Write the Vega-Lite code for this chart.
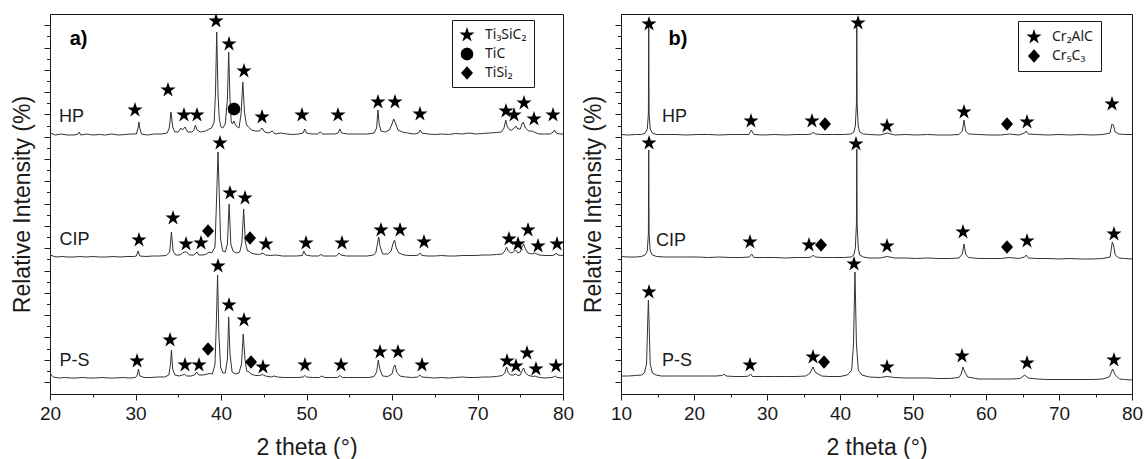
{
"$schema": "https://vega.github.io/schema/vega-lite/v6.json",
"padding": {"left": 11, "top": 12, "right": 0, "bottom": 0},
"background": "white",
"config": {
  "font": "Liberation Sans",
  "view": {"stroke": "#1a1a1a", "strokeWidth": 1},
  "axis": {"grid": false, "domainColor": "#1a1a1a", "tickColor": "#1a1a1a", "labelColor": "#1a1a1a", "titleColor": "#1a1a1a", "labelFontSize": 19, "titleFontSize": 23, "titleFontWeight": "normal", "tickWidth": 1, "domainWidth": 1},
  "legend": {"orient": "none", "strokeColor": "#1a1a1a", "fillColor": "white", "padding": 7, "labelFont": "Noto Sans", "labelFontSize": 14, "labelColor": "#1a1a1a", "symbolSize": 256, "symbolFillColor": "#000", "symbolStrokeWidth": 0, "rowPadding": 4, "labelOffset": 10, "title": null}
},
"datasets": {
  "lineA": [
    {"s":"HP","x":20.0,"y":261},{"s":"HP","x":20.6,"y":259},{"s":"HP","x":21.3,"y":260},{"s":"HP","x":22.0,"y":259},{"s":"HP","x":22.7,"y":259},{"s":"HP","x":23.2,"y":259.5},{"s":"HP","x":23.4,"y":262},{"s":"HP","x":23.6,"y":259},{"s":"HP","x":24.3,"y":260},{"s":"HP","x":25.0,"y":259},{"s":"HP","x":25.8,"y":259.5},{"s":"HP","x":26.5,"y":259},{"s":"HP","x":27.2,"y":260},{"s":"HP","x":28.0,"y":259},{"s":"HP","x":28.8,"y":259.5},{"s":"HP","x":29.5,"y":260},{"s":"HP","x":30.1,"y":260},{"s":"HP","x":30.3,"y":266},{"s":"HP","x":30.4,"y":272},{"s":"HP","x":30.5,"y":266},{"s":"HP","x":30.7,"y":260},{"s":"HP","x":31.4,"y":259},{"s":"HP","x":32.2,"y":260},{"s":"HP","x":33.0,"y":260},{"s":"HP","x":33.7,"y":261},{"s":"HP","x":33.95,"y":266},{"s":"HP","x":34.15,"y":282},{"s":"HP","x":34.35,"y":267},{"s":"HP","x":34.6,"y":262},{"s":"HP","x":35.0,"y":262},{"s":"HP","x":35.3,"y":266},{"s":"HP","x":35.5,"y":264},{"s":"HP","x":35.8,"y":267},{"s":"HP","x":36.1,"y":262},{"s":"HP","x":36.6,"y":262},{"s":"HP","x":36.85,"y":264},{"s":"HP","x":37.0,"y":269},{"s":"HP","x":37.2,"y":264},{"s":"HP","x":37.6,"y":262},{"s":"HP","x":38.2,"y":263},{"s":"HP","x":38.6,"y":265},{"s":"HP","x":38.9,"y":266},{"s":"HP","x":39.2,"y":272},{"s":"HP","x":39.35,"y":300},{"s":"HP","x":39.5,"y":362},{"s":"HP","x":39.65,"y":300},{"s":"HP","x":39.8,"y":275},{"s":"HP","x":40.0,"y":267},{"s":"HP","x":40.2,"y":266},{"s":"HP","x":40.5,"y":270},{"s":"HP","x":40.75,"y":295},{"s":"HP","x":40.9,"y":342},{"s":"HP","x":41.05,"y":295},{"s":"HP","x":41.2,"y":272},{"s":"HP","x":41.35,"y":270},{"s":"HP","x":41.5,"y":273},{"s":"HP","x":41.7,"y":269},{"s":"HP","x":41.9,"y":267},{"s":"HP","x":42.1,"y":266},{"s":"HP","x":42.35,"y":280},{"s":"HP","x":42.55,"y":312},{"s":"HP","x":42.75,"y":282},{"s":"HP","x":42.95,"y":270},{"s":"HP","x":43.2,"y":267},{"s":"HP","x":43.6,"y":264},{"s":"HP","x":44.0,"y":263},{"s":"HP","x":44.5,"y":263},{"s":"HP","x":44.8,"y":266},{"s":"HP","x":45.1,"y":262},{"s":"HP","x":45.6,"y":261},{"s":"HP","x":46.0,"y":263},{"s":"HP","x":46.3,"y":260},{"s":"HP","x":47.0,"y":261},{"s":"HP","x":47.7,"y":260},{"s":"HP","x":48.4,"y":259.5},{"s":"HP","x":49.1,"y":260},{"s":"HP","x":49.6,"y":261},{"s":"HP","x":49.8,"y":265},{"s":"HP","x":50.0,"y":261},{"s":"HP","x":50.6,"y":260},{"s":"HP","x":51.3,"y":260},{"s":"HP","x":51.6,"y":262},{"s":"HP","x":51.9,"y":260},{"s":"HP","x":52.6,"y":260},{"s":"HP","x":53.3,"y":260},{"s":"HP","x":53.7,"y":261},{"s":"HP","x":53.9,"y":265},{"s":"HP","x":54.1,"y":261},{"s":"HP","x":54.8,"y":260},{"s":"HP","x":55.6,"y":260},{"s":"HP","x":56.4,"y":260},{"s":"HP","x":57.2,"y":260},{"s":"HP","x":57.9,"y":261},{"s":"HP","x":58.2,"y":266},{"s":"HP","x":58.35,"y":284},{"s":"HP","x":58.5,"y":270},{"s":"HP","x":58.7,"y":263},{"s":"HP","x":59.2,"y":262},{"s":"HP","x":59.7,"y":264},{"s":"HP","x":60.0,"y":270},{"s":"HP","x":60.2,"y":275},{"s":"HP","x":60.45,"y":270},{"s":"HP","x":60.7,"y":264},{"s":"HP","x":61.2,"y":262},{"s":"HP","x":61.8,"y":261},{"s":"HP","x":62.6,"y":260},{"s":"HP","x":63.1,"y":261},{"s":"HP","x":63.3,"y":264},{"s":"HP","x":63.5,"y":261},{"s":"HP","x":64.2,"y":260},{"s":"HP","x":65.0,"y":259.5},{"s":"HP","x":65.8,"y":260},{"s":"HP","x":66.6,"y":259.5},{"s":"HP","x":67.4,"y":260.5},{"s":"HP","x":68.2,"y":260},{"s":"HP","x":69.0,"y":261},{"s":"HP","x":69.8,"y":260},{"s":"HP","x":70.6,"y":260.5},{"s":"HP","x":71.4,"y":261},{"s":"HP","x":72.2,"y":261.5},{"s":"HP","x":72.8,"y":262},{"s":"HP","x":73.1,"y":266},{"s":"HP","x":73.3,"y":274},{"s":"HP","x":73.5,"y":267},{"s":"HP","x":73.8,"y":264},{"s":"HP","x":74.0,"y":264},{"s":"HP","x":74.3,"y":266},{"s":"HP","x":74.5,"y":268},{"s":"HP","x":74.7,"y":265},{"s":"HP","x":75.0,"y":265},{"s":"HP","x":75.2,"y":270},{"s":"HP","x":75.35,"y":272},{"s":"HP","x":75.6,"y":266},{"s":"HP","x":76.0,"y":263},{"s":"HP","x":76.4,"y":263},{"s":"HP","x":76.6,"y":262},{"s":"HP","x":77.2,"y":260},{"s":"HP","x":77.8,"y":260},{"s":"HP","x":78.5,"y":260},{"s":"HP","x":78.85,"y":262},{"s":"HP","x":79.0,"y":264},{"s":"HP","x":79.2,"y":261},{"s":"HP","x":79.6,"y":260},{"s":"HP","x":80.0,"y":260},
    {"s":"CIP","x":20.0,"y":139},{"s":"CIP","x":20.7,"y":137},{"s":"CIP","x":21.4,"y":137.5},{"s":"CIP","x":22.1,"y":137},{"s":"CIP","x":22.8,"y":137},{"s":"CIP","x":23.5,"y":137.5},{"s":"CIP","x":24.2,"y":137},{"s":"CIP","x":25.0,"y":137.5},{"s":"CIP","x":25.8,"y":137},{"s":"CIP","x":26.6,"y":137},{"s":"CIP","x":27.4,"y":137.5},{"s":"CIP","x":28.2,"y":137},{"s":"CIP","x":29.0,"y":137.5},{"s":"CIP","x":29.8,"y":137.5},{"s":"CIP","x":30.1,"y":138},{"s":"CIP","x":30.3,"y":143},{"s":"CIP","x":30.5,"y":138},{"s":"CIP","x":31.2,"y":137.5},{"s":"CIP","x":32.0,"y":138},{"s":"CIP","x":32.8,"y":138},{"s":"CIP","x":33.6,"y":138.5},{"s":"CIP","x":34.0,"y":142},{"s":"CIP","x":34.2,"y":162},{"s":"CIP","x":34.4,"y":143},{"s":"CIP","x":34.7,"y":139},{"s":"CIP","x":35.2,"y":139},{"s":"CIP","x":35.5,"y":141},{"s":"CIP","x":35.7,"y":142},{"s":"CIP","x":36.0,"y":142},{"s":"CIP","x":36.3,"y":139},{"s":"CIP","x":36.8,"y":139},{"s":"CIP","x":37.1,"y":141},{"s":"CIP","x":37.2,"y":142},{"s":"CIP","x":37.4,"y":139},{"s":"CIP","x":37.9,"y":139},{"s":"CIP","x":38.3,"y":140},{"s":"CIP","x":38.6,"y":142},{"s":"CIP","x":38.9,"y":141},{"s":"CIP","x":39.3,"y":147},{"s":"CIP","x":39.5,"y":200},{"s":"CIP","x":39.65,"y":242},{"s":"CIP","x":39.8,"y":200},{"s":"CIP","x":39.95,"y":155},{"s":"CIP","x":40.2,"y":143},{"s":"CIP","x":40.5,"y":142},{"s":"CIP","x":40.75,"y":150},{"s":"CIP","x":40.95,"y":190},{"s":"CIP","x":41.15,"y":150},{"s":"CIP","x":41.4,"y":143},{"s":"CIP","x":41.8,"y":141},{"s":"CIP","x":42.2,"y":142},{"s":"CIP","x":42.45,"y":152},{"s":"CIP","x":42.65,"y":185},{"s":"CIP","x":42.85,"y":152},{"s":"CIP","x":43.1,"y":143},{"s":"CIP","x":43.3,"y":143},{"s":"CIP","x":43.5,"y":141},{"s":"CIP","x":43.9,"y":140},{"s":"CIP","x":44.5,"y":139.5},{"s":"CIP","x":44.9,"y":141},{"s":"CIP","x":45.2,"y":139},{"s":"CIP","x":45.8,"y":138.5},{"s":"CIP","x":46.4,"y":139},{"s":"CIP","x":47.2,"y":138},{"s":"CIP","x":48.0,"y":138},{"s":"CIP","x":48.8,"y":138},{"s":"CIP","x":49.5,"y":138.5},{"s":"CIP","x":49.7,"y":143},{"s":"CIP","x":49.9,"y":139},{"s":"CIP","x":50.6,"y":138},{"s":"CIP","x":51.4,"y":138},{"s":"CIP","x":51.7,"y":139.5},{"s":"CIP","x":52.0,"y":138},{"s":"CIP","x":52.8,"y":138},{"s":"CIP","x":53.5,"y":138},{"s":"CIP","x":53.8,"y":141},{"s":"CIP","x":54.0,"y":139},{"s":"CIP","x":54.7,"y":138},{"s":"CIP","x":55.5,"y":138},{"s":"CIP","x":56.3,"y":138},{"s":"CIP","x":57.1,"y":138},{"s":"CIP","x":57.8,"y":139},{"s":"CIP","x":58.1,"y":141},{"s":"CIP","x":58.3,"y":150},{"s":"CIP","x":58.45,"y":157},{"s":"CIP","x":58.6,"y":148},{"s":"CIP","x":58.9,"y":140},{"s":"CIP","x":59.5,"y":140},{"s":"CIP","x":59.9,"y":143},{"s":"CIP","x":60.1,"y":150},{"s":"CIP","x":60.3,"y":154},{"s":"CIP","x":60.5,"y":146},{"s":"CIP","x":60.8,"y":141},{"s":"CIP","x":61.4,"y":139},{"s":"CIP","x":62.1,"y":138.5},{"s":"CIP","x":62.8,"y":138.5},{"s":"CIP","x":63.1,"y":139},{"s":"CIP","x":63.3,"y":141},{"s":"CIP","x":63.5,"y":138.5},{"s":"CIP","x":64.2,"y":138},{"s":"CIP","x":65.0,"y":138},{"s":"CIP","x":65.8,"y":138.5},{"s":"CIP","x":66.6,"y":138},{"s":"CIP","x":67.4,"y":138},{"s":"CIP","x":68.2,"y":138.5},{"s":"CIP","x":69.0,"y":138.5},{"s":"CIP","x":69.8,"y":138.5},{"s":"CIP","x":70.6,"y":139},{"s":"CIP","x":71.4,"y":139},{"s":"CIP","x":72.2,"y":139.5},{"s":"CIP","x":72.9,"y":140},{"s":"CIP","x":73.2,"y":143},{"s":"CIP","x":73.4,"y":147},{"s":"CIP","x":73.6,"y":143},{"s":"CIP","x":73.9,"y":141},{"s":"CIP","x":74.2,"y":142},{"s":"CIP","x":74.45,"y":144},{"s":"CIP","x":74.7,"y":141},{"s":"CIP","x":75.0,"y":142},{"s":"CIP","x":75.2,"y":147},{"s":"CIP","x":75.4,"y":150},{"s":"CIP","x":75.6,"y":145},{"s":"CIP","x":75.9,"y":141},{"s":"CIP","x":76.4,"y":140},{"s":"CIP","x":76.7,"y":141},{"s":"CIP","x":77.2,"y":139},{"s":"CIP","x":77.9,"y":138.5},{"s":"CIP","x":78.6,"y":138.5},{"s":"CIP","x":79.0,"y":139},{"s":"CIP","x":79.2,"y":141},{"s":"CIP","x":79.4,"y":139},{"s":"CIP","x":80.0,"y":138.5},
    {"s":"PS","x":20.0,"y":22},{"s":"PS","x":20.15,"y":19},{"s":"PS","x":20.4,"y":17},{"s":"PS","x":21.0,"y":16},{"s":"PS","x":21.7,"y":16.5},{"s":"PS","x":22.4,"y":16},{"s":"PS","x":23.1,"y":16},{"s":"PS","x":23.8,"y":16.5},{"s":"PS","x":24.5,"y":16},{"s":"PS","x":25.3,"y":16},{"s":"PS","x":26.1,"y":16.5},{"s":"PS","x":26.9,"y":16},{"s":"PS","x":27.7,"y":16},{"s":"PS","x":28.5,"y":16.5},{"s":"PS","x":29.3,"y":16},{"s":"PS","x":30.0,"y":16.5},{"s":"PS","x":30.2,"y":19},{"s":"PS","x":30.35,"y":25},{"s":"PS","x":30.5,"y":18},{"s":"PS","x":31.0,"y":16.5},{"s":"PS","x":31.8,"y":16.5},{"s":"PS","x":32.6,"y":17},{"s":"PS","x":33.4,"y":17},{"s":"PS","x":33.9,"y":19},{"s":"PS","x":34.1,"y":30},{"s":"PS","x":34.2,"y":44},{"s":"PS","x":34.35,"y":25},{"s":"PS","x":34.6,"y":19},{"s":"PS","x":35.1,"y":18},{"s":"PS","x":35.5,"y":19},{"s":"PS","x":35.75,"y":19.5},{"s":"PS","x":36.0,"y":18},{"s":"PS","x":36.5,"y":18},{"s":"PS","x":36.9,"y":19},{"s":"PS","x":37.15,"y":22},{"s":"PS","x":37.4,"y":19},{"s":"PS","x":37.9,"y":19},{"s":"PS","x":38.4,"y":20},{"s":"PS","x":38.7,"y":20.5},{"s":"PS","x":39.0,"y":20},{"s":"PS","x":39.3,"y":30},{"s":"PS","x":39.45,"y":70},{"s":"PS","x":39.6,"y":119},{"s":"PS","x":39.75,"y":60},{"s":"PS","x":39.95,"y":27},{"s":"PS","x":40.2,"y":21},{"s":"PS","x":40.5,"y":21},{"s":"PS","x":40.75,"y":35},{"s":"PS","x":40.9,"y":77},{"s":"PS","x":41.05,"y":40},{"s":"PS","x":41.3,"y":22},{"s":"PS","x":41.7,"y":20},{"s":"PS","x":42.1,"y":21},{"s":"PS","x":42.4,"y":30},{"s":"PS","x":42.6,"y":60},{"s":"PS","x":42.8,"y":35},{"s":"PS","x":43.0,"y":23},{"s":"PS","x":43.3,"y":22},{"s":"PS","x":43.5,"y":20},{"s":"PS","x":44.0,"y":18.5},{"s":"PS","x":44.5,"y":18.5},{"s":"PS","x":44.85,"y":19.5},{"s":"PS","x":45.2,"y":18},{"s":"PS","x":45.9,"y":17},{"s":"PS","x":46.2,"y":18},{"s":"PS","x":46.6,"y":17},{"s":"PS","x":47.4,"y":16.5},{"s":"PS","x":48.2,"y":16.5},{"s":"PS","x":49.0,"y":16.5},{"s":"PS","x":49.6,"y":17},{"s":"PS","x":49.8,"y":18.5},{"s":"PS","x":50.0,"y":17},{"s":"PS","x":50.7,"y":16.5},{"s":"PS","x":51.5,"y":16.5},{"s":"PS","x":51.8,"y":18},{"s":"PS","x":52.1,"y":16.5},{"s":"PS","x":52.9,"y":16.5},{"s":"PS","x":53.6,"y":16.5},{"s":"PS","x":53.9,"y":18.5},{"s":"PS","x":54.2,"y":16.5},{"s":"PS","x":54.9,"y":16.5},{"s":"PS","x":55.7,"y":16.5},{"s":"PS","x":56.5,"y":16.5},{"s":"PS","x":57.3,"y":16.5},{"s":"PS","x":57.9,"y":17.5},{"s":"PS","x":58.2,"y":22},{"s":"PS","x":58.4,"y":34},{"s":"PS","x":58.6,"y":24},{"s":"PS","x":58.9,"y":18},{"s":"PS","x":59.5,"y":17.5},{"s":"PS","x":60.0,"y":20},{"s":"PS","x":60.2,"y":27},{"s":"PS","x":60.35,"y":29},{"s":"PS","x":60.55,"y":22},{"s":"PS","x":60.9,"y":18},{"s":"PS","x":61.6,"y":17},{"s":"PS","x":62.4,"y":16.5},{"s":"PS","x":63.0,"y":17},{"s":"PS","x":63.25,"y":19},{"s":"PS","x":63.5,"y":17},{"s":"PS","x":64.2,"y":16.5},{"s":"PS","x":65.0,"y":16},{"s":"PS","x":65.8,"y":16.5},{"s":"PS","x":66.6,"y":16},{"s":"PS","x":67.4,"y":16.5},{"s":"PS","x":68.2,"y":17},{"s":"PS","x":69.0,"y":16.5},{"s":"PS","x":69.8,"y":16.5},{"s":"PS","x":70.6,"y":17},{"s":"PS","x":71.4,"y":17},{"s":"PS","x":72.2,"y":17.5},{"s":"PS","x":72.9,"y":18.5},{"s":"PS","x":73.2,"y":21},{"s":"PS","x":73.4,"y":27},{"s":"PS","x":73.6,"y":21},{"s":"PS","x":73.9,"y":19},{"s":"PS","x":74.2,"y":19},{"s":"PS","x":74.45,"y":20},{"s":"PS","x":74.7,"y":18.5},{"s":"PS","x":75.0,"y":19},{"s":"PS","x":75.25,"y":24},{"s":"PS","x":75.4,"y":26},{"s":"PS","x":75.6,"y":21},{"s":"PS","x":76.0,"y":18.5},{"s":"PS","x":76.5,"y":17.5},{"s":"PS","x":76.7,"y":18},{"s":"PS","x":77.2,"y":16.5},{"s":"PS","x":77.9,"y":16},{"s":"PS","x":78.6,"y":16.5},{"s":"PS","x":78.9,"y":17},{"s":"PS","x":79.1,"y":18},{"s":"PS","x":79.3,"y":16.5},{"s":"PS","x":80.0,"y":16}
  ],
  "markA": [
    {"ph":"Ti₃SiC₂","x":29.94,"y":284},{"ph":"Ti₃SiC₂","x":33.8,"y":304},{"ph":"Ti₃SiC₂","x":35.67,"y":279},{"ph":"Ti₃SiC₂","x":37.19,"y":279},{"ph":"Ti₃SiC₂","x":39.42,"y":373},{"ph":"Ti₃SiC₂","x":40.94,"y":350},{"ph":"Ti₃SiC₂","x":42.69,"y":323},{"ph":"Ti₃SiC₂","x":44.8,"y":277},{"ph":"Ti₃SiC₂","x":49.47,"y":279},{"ph":"Ti₃SiC₂","x":53.68,"y":279},{"ph":"Ti₃SiC₂","x":58.36,"y":292},{"ph":"Ti₃SiC₂","x":60.35,"y":292},{"ph":"Ti₃SiC₂","x":63.27,"y":280},{"ph":"Ti₃SiC₂","x":73.33,"y":283},{"ph":"Ti₃SiC₂","x":74.27,"y":279},{"ph":"Ti₃SiC₂","x":75.44,"y":291},{"ph":"Ti₃SiC₂","x":76.61,"y":275},{"ph":"Ti₃SiC₂","x":78.83,"y":279},{"ph":"TiC","x":41.52,"y":285},
    {"ph":"Ti₃SiC₂","x":30.41,"y":154},{"ph":"Ti₃SiC₂","x":34.39,"y":176},{"ph":"Ti₃SiC₂","x":35.91,"y":150},{"ph":"Ti₃SiC₂","x":37.66,"y":151},{"ph":"Ti₃SiC₂","x":39.88,"y":251},{"ph":"Ti₃SiC₂","x":41.05,"y":201},{"ph":"Ti₃SiC₂","x":42.81,"y":196},{"ph":"Ti₃SiC₂","x":45.26,"y":150},{"ph":"Ti₃SiC₂","x":49.94,"y":151},{"ph":"Ti₃SiC₂","x":54.15,"y":151},{"ph":"Ti₃SiC₂","x":58.71,"y":164},{"ph":"Ti₃SiC₂","x":60.94,"y":164},{"ph":"Ti₃SiC₂","x":63.74,"y":152},{"ph":"Ti₃SiC₂","x":73.68,"y":155},{"ph":"Ti₃SiC₂","x":74.74,"y":150},{"ph":"Ti₃SiC₂","x":75.91,"y":164},{"ph":"Ti₃SiC₂","x":77.08,"y":148},{"ph":"Ti₃SiC₂","x":79.3,"y":150},{"ph":"TiSi₂","x":38.48,"y":163},{"ph":"TiSi₂","x":43.39,"y":156},
    {"ph":"Ti₃SiC₂","x":30.18,"y":33},{"ph":"Ti₃SiC₂","x":34.04,"y":54},{"ph":"Ti₃SiC₂","x":35.79,"y":29},{"ph":"Ti₃SiC₂","x":37.43,"y":29},{"ph":"Ti₃SiC₂","x":39.65,"y":128},{"ph":"Ti₃SiC₂","x":40.94,"y":89},{"ph":"Ti₃SiC₂","x":42.69,"y":74},{"ph":"Ti₃SiC₂","x":44.91,"y":27},{"ph":"Ti₃SiC₂","x":49.82,"y":29},{"ph":"Ti₃SiC₂","x":54.04,"y":29},{"ph":"Ti₃SiC₂","x":58.6,"y":42},{"ph":"Ti₃SiC₂","x":60.7,"y":42},{"ph":"Ti₃SiC₂","x":63.51,"y":29},{"ph":"Ti₃SiC₂","x":73.45,"y":33},{"ph":"Ti₃SiC₂","x":74.5,"y":28},{"ph":"Ti₃SiC₂","x":75.79,"y":41},{"ph":"Ti₃SiC₂","x":76.84,"y":25},{"ph":"Ti₃SiC₂","x":79.18,"y":28},{"ph":"TiSi₂","x":38.48,"y":45},{"ph":"TiSi₂","x":43.51,"y":32}
  ],
  "textA": [{"x":21.05,"y":277,"t":"HP"},{"x":21.1,"y":154,"t":"CIP"},{"x":21.1,"y":33,"t":"P-S"}],
  "labA": [{"x":22.3,"y":355,"t":"a)"}],
  "lineB": [
    {"s":"HP","x":10.0,"y":259.5},{"s":"HP","x":11.0,"y":259},{"s":"HP","x":12.0,"y":259.5},{"s":"HP","x":12.8,"y":259.5},{"s":"HP","x":13.3,"y":261},{"s":"HP","x":13.6,"y":265},{"s":"HP","x":13.75,"y":280},{"s":"HP","x":13.8,"y":367},{"s":"HP","x":13.85,"y":280},{"s":"HP","x":14.0,"y":265},{"s":"HP","x":14.3,"y":261},{"s":"HP","x":14.9,"y":259.5},{"s":"HP","x":16.0,"y":259.5},{"s":"HP","x":17.5,"y":259.5},{"s":"HP","x":19.0,"y":259},{"s":"HP","x":20.5,"y":259.5},{"s":"HP","x":22.0,"y":259.5},{"s":"HP","x":23.5,"y":259},{"s":"HP","x":25.0,"y":259.5},{"s":"HP","x":26.5,"y":259.5},{"s":"HP","x":27.5,"y":259.5},{"s":"HP","x":27.85,"y":264},{"s":"HP","x":28.2,"y":259.5},{"s":"HP","x":29.5,"y":259},{"s":"HP","x":31.0,"y":259.5},{"s":"HP","x":32.5,"y":259},{"s":"HP","x":34.0,"y":259.5},{"s":"HP","x":35.5,"y":259.5},{"s":"HP","x":36.1,"y":260},{"s":"HP","x":36.35,"y":262},{"s":"HP","x":36.6,"y":260},{"s":"HP","x":37.5,"y":259.5},{"s":"HP","x":39.0,"y":259.5},{"s":"HP","x":40.5,"y":259.5},{"s":"HP","x":41.5,"y":260},{"s":"HP","x":41.9,"y":262},{"s":"HP","x":42.1,"y":268},{"s":"HP","x":42.25,"y":290},{"s":"HP","x":42.3,"y":367},{"s":"HP","x":42.35,"y":290},{"s":"HP","x":42.5,"y":268},{"s":"HP","x":42.7,"y":262},{"s":"HP","x":43.2,"y":260},{"s":"HP","x":44.0,"y":259.5},{"s":"HP","x":45.5,"y":259},{"s":"HP","x":46.45,"y":261},{"s":"HP","x":47.5,"y":259},{"s":"HP","x":49.0,"y":259.5},{"s":"HP","x":50.5,"y":259},{"s":"HP","x":52.0,"y":259.5},{"s":"HP","x":53.5,"y":259},{"s":"HP","x":55.0,"y":259},{"s":"HP","x":56.3,"y":259.5},{"s":"HP","x":56.75,"y":263},{"s":"HP","x":57.0,"y":274},{"s":"HP","x":57.2,"y":263},{"s":"HP","x":57.6,"y":260},{"s":"HP","x":59.0,"y":259.5},{"s":"HP","x":60.5,"y":259},{"s":"HP","x":62.0,"y":259},{"s":"HP","x":63.2,"y":260},{"s":"HP","x":64.5,"y":259},{"s":"HP","x":65.3,"y":261},{"s":"HP","x":65.5,"y":263},{"s":"HP","x":65.8,"y":260},{"s":"HP","x":67.0,"y":259.5},{"s":"HP","x":68.5,"y":259},{"s":"HP","x":70.0,"y":259.5},{"s":"HP","x":71.5,"y":259},{"s":"HP","x":73.0,"y":259.5},{"s":"HP","x":74.5,"y":259},{"s":"HP","x":76.0,"y":259.5},{"s":"HP","x":77.0,"y":261},{"s":"HP","x":77.25,"y":270},{"s":"HP","x":77.45,"y":269},{"s":"HP","x":77.7,"y":262},{"s":"HP","x":78.2,"y":260},{"s":"HP","x":79.0,"y":259.5},{"s":"HP","x":80.0,"y":259.5},
    {"s":"CIP","x":10.0,"y":137.5},{"s":"CIP","x":11.0,"y":137},{"s":"CIP","x":12.0,"y":137},{"s":"CIP","x":12.8,"y":137.5},{"s":"CIP","x":13.3,"y":139},{"s":"CIP","x":13.6,"y":143},{"s":"CIP","x":13.75,"y":160},{"s":"CIP","x":13.8,"y":244},{"s":"CIP","x":13.85,"y":160},{"s":"CIP","x":14.0,"y":143},{"s":"CIP","x":14.3,"y":139},{"s":"CIP","x":14.9,"y":137.5},{"s":"CIP","x":16.0,"y":137},{"s":"CIP","x":17.5,"y":137},{"s":"CIP","x":19.0,"y":137},{"s":"CIP","x":20.5,"y":137},{"s":"CIP","x":22.0,"y":136.5},{"s":"CIP","x":23.5,"y":137},{"s":"CIP","x":25.0,"y":136.5},{"s":"CIP","x":26.5,"y":136.5},{"s":"CIP","x":27.6,"y":137},{"s":"CIP","x":27.9,"y":140},{"s":"CIP","x":28.2,"y":136.5},{"s":"CIP","x":29.5,"y":136.5},{"s":"CIP","x":31.0,"y":136.5},{"s":"CIP","x":32.5,"y":136},{"s":"CIP","x":34.0,"y":136.5},{"s":"CIP","x":35.5,"y":136.5},{"s":"CIP","x":36.1,"y":137},{"s":"CIP","x":36.35,"y":139},{"s":"CIP","x":36.6,"y":137},{"s":"CIP","x":37.5,"y":136.5},{"s":"CIP","x":39.0,"y":136.5},{"s":"CIP","x":40.5,"y":136.5},{"s":"CIP","x":41.5,"y":137},{"s":"CIP","x":41.9,"y":139},{"s":"CIP","x":42.1,"y":146},{"s":"CIP","x":42.25,"y":170},{"s":"CIP","x":42.3,"y":245},{"s":"CIP","x":42.35,"y":170},{"s":"CIP","x":42.5,"y":146},{"s":"CIP","x":42.7,"y":139},{"s":"CIP","x":43.2,"y":137},{"s":"CIP","x":44.0,"y":136},{"s":"CIP","x":45.5,"y":136},{"s":"CIP","x":46.45,"y":137.5},{"s":"CIP","x":47.5,"y":136},{"s":"CIP","x":49.0,"y":136},{"s":"CIP","x":50.5,"y":135.5},{"s":"CIP","x":52.0,"y":136},{"s":"CIP","x":53.5,"y":135.5},{"s":"CIP","x":55.0,"y":135.5},{"s":"CIP","x":56.3,"y":136},{"s":"CIP","x":56.75,"y":140},{"s":"CIP","x":57.0,"y":150},{"s":"CIP","x":57.2,"y":140},{"s":"CIP","x":57.6,"y":136.5},{"s":"CIP","x":59.0,"y":135.5},{"s":"CIP","x":60.5,"y":135.5},{"s":"CIP","x":62.0,"y":135.5},{"s":"CIP","x":63.2,"y":136.5},{"s":"CIP","x":64.5,"y":135.5},{"s":"CIP","x":65.3,"y":137},{"s":"CIP","x":65.5,"y":139},{"s":"CIP","x":65.8,"y":136},{"s":"CIP","x":67.0,"y":135.5},{"s":"CIP","x":68.5,"y":135.5},{"s":"CIP","x":70.0,"y":135},{"s":"CIP","x":71.5,"y":135.5},{"s":"CIP","x":73.0,"y":135},{"s":"CIP","x":74.5,"y":135},{"s":"CIP","x":76.0,"y":135.5},{"s":"CIP","x":77.0,"y":137},{"s":"CIP","x":77.3,"y":152},{"s":"CIP","x":77.5,"y":148},{"s":"CIP","x":77.7,"y":139},{"s":"CIP","x":78.2,"y":136},{"s":"CIP","x":79.0,"y":135.5},{"s":"CIP","x":80.0,"y":135},
    {"s":"PS","x":10.0,"y":18},{"s":"PS","x":11.0,"y":18},{"s":"PS","x":12.0,"y":18.5},{"s":"PS","x":12.8,"y":19},{"s":"PS","x":13.2,"y":21},{"s":"PS","x":13.5,"y":30},{"s":"PS","x":13.65,"y":70},{"s":"PS","x":13.75,"y":94},{"s":"PS","x":13.85,"y":70},{"s":"PS","x":14.0,"y":30},{"s":"PS","x":14.3,"y":21},{"s":"PS","x":14.8,"y":19},{"s":"PS","x":15.5,"y":18},{"s":"PS","x":17.0,"y":18},{"s":"PS","x":18.5,"y":18},{"s":"PS","x":20.0,"y":18},{"s":"PS","x":21.5,"y":18},{"s":"PS","x":23.0,"y":18},{"s":"PS","x":23.9,"y":18.5},{"s":"PS","x":24.1,"y":20},{"s":"PS","x":24.4,"y":18},{"s":"PS","x":25.5,"y":17.5},{"s":"PS","x":27.0,"y":17.5},{"s":"PS","x":27.5,"y":18},{"s":"PS","x":27.75,"y":20},{"s":"PS","x":28.0,"y":17.5},{"s":"PS","x":29.5,"y":17.5},{"s":"PS","x":31.0,"y":17.5},{"s":"PS","x":32.5,"y":17.5},{"s":"PS","x":34.0,"y":17.5},{"s":"PS","x":35.3,"y":18},{"s":"PS","x":35.9,"y":21},{"s":"PS","x":36.3,"y":27},{"s":"PS","x":36.6,"y":22},{"s":"PS","x":37.0,"y":20},{"s":"PS","x":37.5,"y":18},{"s":"PS","x":38.5,"y":17.5},{"s":"PS","x":40.0,"y":17.5},{"s":"PS","x":41.0,"y":19},{"s":"PS","x":41.6,"y":24},{"s":"PS","x":41.85,"y":50},{"s":"PS","x":42.05,"y":122},{"s":"PS","x":42.25,"y":50},{"s":"PS","x":42.5,"y":24},{"s":"PS","x":43.0,"y":19},{"s":"PS","x":44.0,"y":17},{"s":"PS","x":45.5,"y":16.5},{"s":"PS","x":46.4,"y":17.5},{"s":"PS","x":47.5,"y":16.5},{"s":"PS","x":49.0,"y":16},{"s":"PS","x":50.5,"y":16},{"s":"PS","x":52.0,"y":16},{"s":"PS","x":53.5,"y":15.5},{"s":"PS","x":55.0,"y":15.5},{"s":"PS","x":56.3,"y":16.5},{"s":"PS","x":56.6,"y":20},{"s":"PS","x":56.85,"y":27},{"s":"PS","x":57.1,"y":22},{"s":"PS","x":57.5,"y":17},{"s":"PS","x":59.0,"y":15},{"s":"PS","x":60.5,"y":15},{"s":"PS","x":62.0,"y":15},{"s":"PS","x":63.5,"y":15},{"s":"PS","x":64.7,"y":15.5},{"s":"PS","x":65.3,"y":19},{"s":"PS","x":65.8,"y":16},{"s":"PS","x":67.0,"y":15},{"s":"PS","x":68.5,"y":14.5},{"s":"PS","x":70.0,"y":14.5},{"s":"PS","x":71.5,"y":14.5},{"s":"PS","x":73.0,"y":14.5},{"s":"PS","x":74.5,"y":14.5},{"s":"PS","x":76.0,"y":15},{"s":"PS","x":76.9,"y":17},{"s":"PS","x":77.35,"y":25},{"s":"PS","x":77.7,"y":19},{"s":"PS","x":78.3,"y":15},{"s":"PS","x":79.0,"y":14.5},{"s":"PS","x":80.0,"y":14}
  ],
  "markB": [
    {"ph":"Cr₂AlC","x":13.84,"y":370},{"ph":"Cr₂AlC","x":27.81,"y":273},{"ph":"Cr₂AlC","x":36.16,"y":273},{"ph":"Cr₂AlC","x":42.47,"y":371},{"ph":"Cr₂AlC","x":46.44,"y":268},{"ph":"Cr₂AlC","x":56.99,"y":282},{"ph":"Cr₂AlC","x":65.62,"y":272},{"ph":"Cr₂AlC","x":77.26,"y":290},{"ph":"Cr₅C₃","x":37.95,"y":270},{"ph":"Cr₅C₃","x":62.88,"y":270},
    {"ph":"Cr₂AlC","x":13.84,"y":251},{"ph":"Cr₂AlC","x":27.67,"y":152},{"ph":"Cr₂AlC","x":35.75,"y":149},{"ph":"Cr₂AlC","x":42.19,"y":250},{"ph":"Cr₂AlC","x":46.44,"y":148},{"ph":"Cr₂AlC","x":56.85,"y":162},{"ph":"Cr₂AlC","x":65.62,"y":153},{"ph":"Cr₂AlC","x":77.53,"y":160},{"ph":"Cr₅C₃","x":37.4,"y":149},{"ph":"Cr₅C₃","x":62.88,"y":147},
    {"ph":"Cr₂AlC","x":13.84,"y":102},{"ph":"Cr₂AlC","x":27.67,"y":29},{"ph":"Cr₂AlC","x":36.3,"y":37},{"ph":"Cr₂AlC","x":41.92,"y":130},{"ph":"Cr₂AlC","x":46.44,"y":27},{"ph":"Cr₂AlC","x":56.71,"y":38},{"ph":"Cr₂AlC","x":65.62,"y":31},{"ph":"Cr₂AlC","x":77.53,"y":34},{"ph":"Cr₅C₃","x":37.81,"y":32}
  ],
  "textB": [{"x":15.6,"y":277,"t":"HP"},{"x":14.8,"y":153,"t":"CIP"},{"x":15.6,"y":33,"t":"P-S"}],
  "labB": [{"x":16.5,"y":355,"t":"b)"}]
},
"spacing": 7,
"resolve": {"scale": {"x": "independent", "shape": "independent"}, "legend": {"shape": "independent"}},
"hconcat": [
  {
    "width": 513, "height": 380,
    "encoding": {
      "x": {"field": "x", "type": "quantitative", "scale": {"domain": [20, 80], "nice": false, "zero": false}, "axis": {"title": "2 theta (°)", "values": [20,25,30,35,40,45,50,55,60,65,70,75,80], "labelExpr": "datum.value % 10 === 0 ? datum.label : ''", "tickSize": {"condition": {"test": "datum.value % 10 === 0", "value": 6}, "value": 3}, "labelPadding": 4, "titlePadding": 13, "labelFlush": false}},
      "y": {"field": "y", "type": "quantitative", "scale": {"domain": [0, 380], "nice": false, "zero": false}, "axis": {"title": "Relative Intensity (%)", "labels": false, "values": [12,23.15,34.3,45.45,56.6,67.75,78.9,90.05,101.2,112.35,123.5,134.65,145.8,156.95,168.1,179.25,190.4,201.55,212.7,223.85,235,246.15,257.3,268.45,279.6,290.75,301.9,313.05,324.2,335.35,346.5,357.65,368.8], "tickSize": {"condition": {"test": "round((datum.value - 12) / 11.15) % 2 === 0", "value": 6}, "value": 3.5}, "titlePadding": 9}}
    },
    "layer": [
      {"data": {"name": "lineA"}, "mark": {"type": "line", "color": "#333", "strokeWidth": 1, "clip": true}, "encoding": {"detail": {"field": "s"}}},
      {"data": {"name": "markA"}, "mark": {"type": "point", "filled": true, "color": "#000", "opacity": 1, "size": 256}, "encoding": {"shape": {"field": "ph", "type": "nominal", "scale": {"domain": ["Ti₃SiC₂", "TiC", "TiSi₂"], "range": ["M0,-1L0.225,-0.309L0.951,-0.309L0.363,0.118L0.588,0.809L0,0.382L-0.588,0.809L-0.363,0.118L-0.951,-0.309L-0.225,-0.309Z", "M0.8,0L0.693,0.4L0.4,0.693L0,0.8L-0.4,0.693L-0.693,0.4L-0.8,0L-0.693,-0.4L-0.4,-0.693L0,-0.8L0.4,-0.693L0.693,-0.4Z", "M0,-0.85L0.75,0L0,0.85L-0.75,0Z"]}, "legend": {"orient": "none", "legendX": 402, "legendY": 6, "labelExpr": "datum.label + '\u00a0\u00a0\u00a0\u00a0\u00a0\u00a0'"}}}},
      {"data": {"name": "textA"}, "mark": {"type": "text", "align": "left", "baseline": "middle", "fontSize": 18, "color": "#1a1a1a"}, "encoding": {"text": {"field": "t"}}},
      {"data": {"name": "labA"}, "mark": {"type": "text", "align": "left", "baseline": "middle", "fontSize": 20, "fontWeight": "bold", "color": "#000"}, "encoding": {"text": {"field": "t"}}}
    ]
  },
  {
    "width": 511, "height": 380,
    "encoding": {
      "x": {"field": "x", "type": "quantitative", "scale": {"domain": [10, 80], "nice": false, "zero": false}, "axis": {"title": "2 theta (°)", "values": [10,15,20,25,30,35,40,45,50,55,60,65,70,75,80], "labelExpr": "datum.value % 10 === 0 ? datum.label : ''", "tickSize": {"condition": {"test": "datum.value % 10 === 0", "value": 6}, "value": 3}, "labelPadding": 4, "titlePadding": 13, "labelFlush": false}},
      "y": {"field": "y", "type": "quantitative", "scale": {"domain": [0, 380], "nice": false, "zero": false}, "axis": {"title": "Relative Intensity (%)", "labels": false, "values": [12,23.15,34.3,45.45,56.6,67.75,78.9,90.05,101.2,112.35,123.5,134.65,145.8,156.95,168.1,179.25,190.4,201.55,212.7,223.85,235,246.15,257.3,268.45,279.6,290.75,301.9,313.05,324.2,335.35,346.5,357.65,368.8], "tickSize": {"condition": {"test": "round((datum.value - 12) / 11.15) % 2 === 0", "value": 6}, "value": 3.5}, "titlePadding": 9}}
    },
    "layer": [
      {"data": {"name": "lineB"}, "mark": {"type": "line", "color": "#333", "strokeWidth": 1, "clip": true}, "encoding": {"detail": {"field": "s"}}},
      {"data": {"name": "markB"}, "mark": {"type": "point", "filled": true, "color": "#000", "opacity": 1, "size": 256}, "encoding": {"shape": {"field": "ph", "type": "nominal", "scale": {"domain": ["Cr₂AlC", "Cr₅C₃"], "range": ["M0,-1L0.225,-0.309L0.951,-0.309L0.363,0.118L0.588,0.809L0,0.382L-0.588,0.809L-0.363,0.118L-0.951,-0.309L-0.225,-0.309Z", "M0,-0.85L0.75,0L0,0.85L-0.75,0Z"]}, "legend": {"orient": "none", "legendX": 397, "legendY": 7, "padding": 8, "labelExpr": "datum.label + '\u00a0\u00a0\u00a0\u00a0'"}}}},
      {"data": {"name": "textB"}, "mark": {"type": "text", "align": "left", "baseline": "middle", "fontSize": 18, "color": "#1a1a1a"}, "encoding": {"text": {"field": "t"}}},
      {"data": {"name": "labB"}, "mark": {"type": "text", "align": "left", "baseline": "middle", "fontSize": 20, "fontWeight": "bold", "color": "#000"}, "encoding": {"text": {"field": "t"}}}
    ]
  }
]
}
